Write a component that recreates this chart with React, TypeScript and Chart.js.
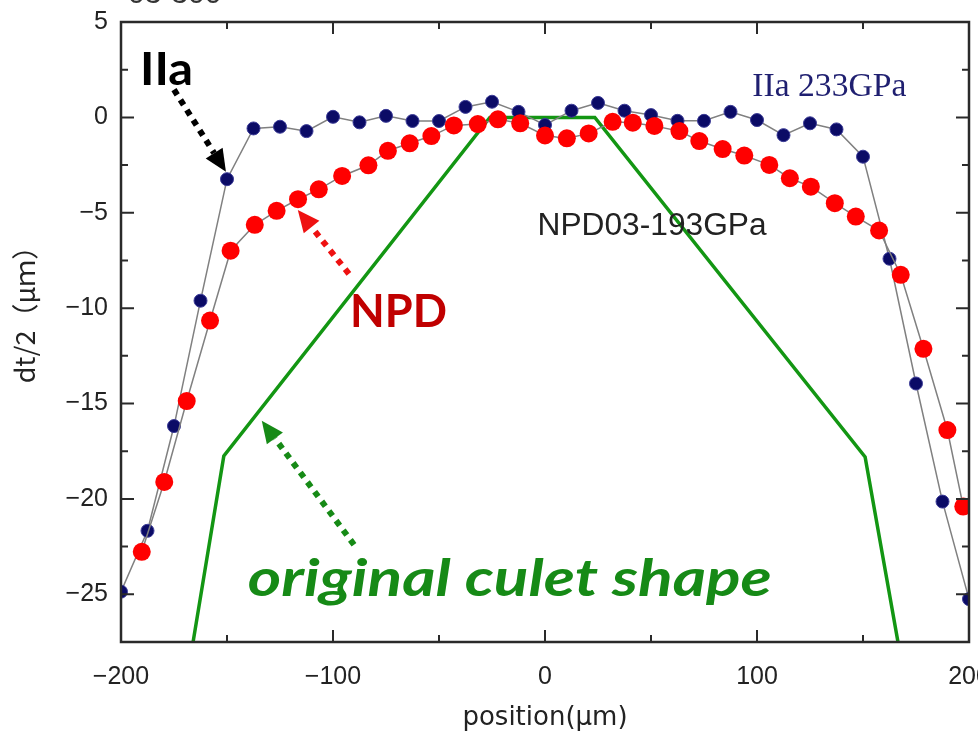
import React, { useEffect, useRef } from "react";
import { Chart, registerables } from "chart.js";

Chart.register(...registerables);

// IIa 233GPa (navy dots)
const iiaX = [-200, -187.5, -175, -162.5, -150, -137.5, -125, -112.5, -100, -87.5, -75, -62.5, -50, -37.5, -25, -12.5, 0, 12.5, 25, 37.5, 50, 62.5, 75, 87.5, 100, 112.5, 125, 137.5, 150, 162.5, 175, 187.5, 200];
const iiaY = [-24.86, -21.67, -16.18, -9.61, -3.24, -0.58, -0.49, -0.72, 0.03, -0.26, 0.08, -0.19, -0.19, 0.55, 0.82, 0.29, -0.4, 0.35, 0.76, 0.35, 0.12, -0.18, -0.18, 0.29, -0.14, -0.93, -0.31, -0.63, -2.06, -7.41, -13.95, -20.14, -25.25];

// NPD03-193GPa (red dots)
const npdX = [-190.2, -179.6, -169, -158, -148.3, -136.9, -126.6, -116.5, -106.7, -95.7, -83.3, -74.1, -63.8, -53.6, -43, -31.7, -22.2, -11.7, 0, 10.3, 20.6, 31.9, 41.4, 51.6, 63.4, 72.8, 83.8, 94, 105.8, 115.5, 125.4, 136.7, 146.6, 157.6, 167.8, 178.5, 189.8, 197.3];
const npdY = [-22.77, -19.11, -14.87, -10.65, -6.99, -5.63, -4.9, -4.29, -3.77, -3.07, -2.51, -1.75, -1.36, -0.98, -0.42, -0.35, -0.1, -0.31, -0.95, -1.1, -0.84, -0.23, -0.28, -0.45, -0.72, -1.24, -1.66, -2.0, -2.49, -3.19, -3.63, -4.5, -5.2, -5.93, -8.25, -12.13, -16.39, -20.4];

// original culet shape (green line)
const culetX = [-166, -151.5, -26, 23.5, 151, 166.5];
const culetY = [-27.5, -17.75, 0, 0, -17.8, -27.5];

const X_MIN = -200;
const X_MAX = 200;
const Y_MIN = -27.5;
const Y_MAX = 5;

const xTitle = "position(μm)";
const yTitle = "dt/2（μｍ）";

const toPts = (xs: number[], ys: number[]) => xs.map((x, i) => ({ x, y: ys[i] }));
const fmt = (v: number) => (v < 0 ? "\u2212" + Math.abs(v) : String(v));

const overlay = {
  id: "overlay",
  afterDraw(chart: any) {
    const { ctx, chartArea: a, scales } = chart;
    const xs = scales.x;
    const ys = scales.y;
    const px = (v: number) => xs.getPixelForValue(v);
    const py = (v: number) => ys.getPixelForValue(v);
    ctx.save();

    // frame
    ctx.strokeStyle = "#2a2a2a";
    ctx.lineWidth = 2.5;
    ctx.strokeRect(a.left, a.top, a.right - a.left, a.bottom - a.top);

    // inward ticks
    ctx.lineWidth = 2;
    ctx.beginPath();
    xs.ticks.forEach((t: any) => {
      const p = px(t.value);
      const len = t.value % 100 === 0 ? 12 : 7;
      ctx.moveTo(p, a.bottom);
      ctx.lineTo(p, a.bottom - len);
      ctx.moveTo(p, a.top);
      ctx.lineTo(p, a.top + len);
    });
    ys.ticks.forEach((t: any) => {
      const p = py(t.value);
      const len = t.value % 5 === 0 ? 13 : 7;
      ctx.moveTo(a.left, p);
      ctx.lineTo(a.left + len, p);
      ctx.moveTo(a.right, p);
      ctx.lineTo(a.right - len, p);
    });
    ctx.stroke();

    // axis titles
    ctx.fillStyle = "#222";
    ctx.textAlign = "center";
    ctx.textBaseline = "middle";
    ctx.font = "26px 'DejaVu Sans'";
    ctx.fillText(xTitle, (a.left + a.right) / 2, 718);
    ctx.save();
    ctx.translate(25, 308);
    ctx.rotate(-Math.PI / 2);
    ctx.font = "27px 'Noto Sans CJK JP'";
    ctx.fillText(yTitle, 0, 0);
    ctx.restore();

    // partially visible title at the very top
    ctx.textAlign = "left";
    ctx.textBaseline = "alphabetic";
    ctx.font = "30px 'Liberation Sans'";
    ctx.fillStyle = "#333";
    ctx.fillText("03-300", 128, 3);

    const text = (s: string, xv: number, yv: number, font: string, color: string, targetW?: number) => {
      ctx.save();
      ctx.font = font;
      ctx.fillStyle = color;
      ctx.textAlign = "left";
      ctx.textBaseline = "alphabetic";
      const x0 = px(xv), y0 = py(yv);
      ctx.translate(x0, y0);
      if (targetW) {
        const w = ctx.measureText(s).width;
        ctx.scale(targetW / w, 1);
      }
      ctx.fillText(s, 0, 0);
      ctx.restore();
    };

    const arrow = (x1: number, y1: number, x2: number, y2: number, color: string) => {
      const sx = px(x1), sy = py(y1), ex = px(x2), ey = py(y2);
      const ang = Math.atan2(ey - sy, ex - sx);
      const hl = 22, hw = 10;
      const bx = ex - hl * Math.cos(ang), by = ey - hl * Math.sin(ang);
      ctx.strokeStyle = color;
      ctx.fillStyle = color;
      ctx.lineWidth = 6;
      ctx.setLineDash([6, 6]);
      ctx.beginPath();
      ctx.moveTo(sx, sy);
      ctx.lineTo(bx, by);
      ctx.stroke();
      ctx.setLineDash([]);
      ctx.beginPath();
      ctx.moveTo(ex, ey);
      ctx.lineTo(bx + hw * Math.sin(ang), by - hw * Math.cos(ang));
      ctx.lineTo(bx - hw * Math.sin(ang), by + hw * Math.cos(ang));
      ctx.closePath();
      ctx.fill();
    };

    text("IIa", -191, 1.69, "bold 46px Lato", "#000", 53);
    arrow(-175, 1.45, -150.5, -2.85, "#000");
    text("IIa 233GPa", 97.8, 1.1, "34px 'Liberation Serif'", "#1f1f70", 154);
    text("NPD03-193GPa", -3.5, -6.15, "31px 'Liberation Sans'", "#222", 229);
    text("NPD", -92, -11.0, "bold 46px Lato", "#c00000", 97);
    arrow(-92.5, -8.2, -116.6, -4.85, "#ee1111");
    text("original culet shape", -140.2, -25.1, "italic bold 52px Lato", "#168a16", 524);
    arrow(-90.1, -22.4, -133.6, -15.9, "#168a16");

    ctx.restore();
  },
};

export default function App() {
  const ref = useRef<HTMLCanvasElement | null>(null);
  useEffect(() => {
    document.body.style.margin = "0";
    const canvas = ref.current;
    if (!canvas) return;
    const chart = new Chart(canvas, {
      type: "scatter",
      data: {
        datasets: [
          {
            label: "NPD03-193GPa",
            data: toPts(npdX, npdY),
            showLine: true,
            borderColor: "#808080",
            borderWidth: 1.5,
            pointRadius: 9,
            pointBackgroundColor: "#ff0000",
            pointBorderColor: "#ff0000",
            pointBorderWidth: 0,
            clip: 0,
          },
          {
            label: "IIa 233GPa",
            data: toPts(iiaX, iiaY),
            showLine: true,
            borderColor: "#808080",
            borderWidth: 1.5,
            pointRadius: 6.5,
            pointBackgroundColor: "#0b0b66",
            pointBorderColor: "#3b3b96",
            pointBorderWidth: 1,
            clip: 0,
          },
          {
            label: "original culet shape",
            data: toPts(culetX, culetY),
            showLine: true,
            borderColor: "#139613",
            borderWidth: 3.5,
            pointRadius: 0,
            clip: 0,
          },
        ],
      },
      options: {
        responsive: false,
        animation: false,
        devicePixelRatio: 1,
        layout: { padding: { top: 22, right: 9, left: 0, bottom: 0 } },
        plugins: { legend: { display: false }, tooltip: { enabled: false } },
        scales: {
          x: {
            type: "linear",
            min: X_MIN,
            max: X_MAX,
            grid: { display: false, drawTicks: false },
            border: { display: false },
            ticks: {
              stepSize: 50,
              autoSkip: false,
              maxRotation: 0,
              padding: 20,
              color: "#222",
              font: { family: "'Liberation Sans'", size: 25 },
              callback: (v: any) => (Number(v) % 100 === 0 ? fmt(Number(v)) : ""),
            },
            afterFit: (s: any) => {
              s.height = 94;
              s.paddingLeft = 0;
              s.paddingRight = 0;
            },
          },
          y: {
            type: "linear",
            min: Y_MIN,
            max: Y_MAX,
            grid: { display: false, drawTicks: false },
            border: { display: false },
            ticks: {
              stepSize: 2.5,
              autoSkip: false,
              padding: 13,
              color: "#222",
              font: { family: "'Liberation Sans'", size: 25 },
              callback: (v: any) => (Number(v) % 5 === 0 ? fmt(Number(v)) : ""),
            },
            afterFit: (s: any) => {
              s.width = 121;
              s.paddingTop = 0;
              s.paddingBottom = 0;
            },
          },
        },
      },
      plugins: [overlay],
    });
    return () => chart.destroy();
  }, []);
  return <canvas ref={ref} width={978} height={736} style={{ display: "block" }} />;
}
